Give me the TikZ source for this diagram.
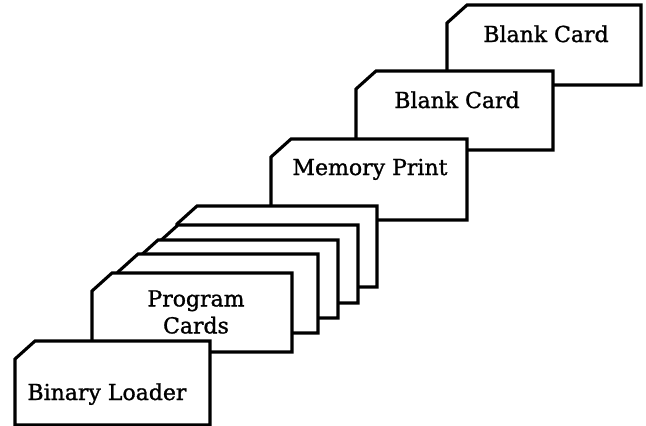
\documentclass[tikz,border=0pt]{standalone}
\usepackage{fontspec}
\setmainfont{DejaVu Serif}
\newfontfamily\cardfont{DejaVu Serif}[FakeBold=1.2]
\begin{document}
\begin{tikzpicture}[x=1pt,y=-1pt,
  cardedge/.style={draw=black,fill=white,line width=3.1pt,line join=miter},
  cardlabel/.style={font=\cardfont\fontsize{22}{27}\selectfont,inner sep=0pt,align=center,text=black}]
\useasboundingbox (0,0) rectangle (646,426);
% card macro: left, top, right, bottom
\newcommand\drawcard[4]{%
  \draw[cardedge] (#1+20,#2) -- (#3,#2) -- (#3,#4) -- (#1,#4) -- (#1,#2+18) -- cycle;}
% back to front
\drawcard{447}{5}{641}{85}
\drawcard{356}{71}{553}{150}
\drawcard{271}{139}{467}{220}
\drawcard{177}{206}{377}{287}
\drawcard{158}{225}{358}{303}
\drawcard{138}{240}{338}{318}
\drawcard{118}{254}{318}{333}
\drawcard{92}{273}{292}{352}
\drawcard{15}{341}{210}{425}
% labels
\node[cardlabel,anchor=base] (blanktop) at (546,42) {Blank Card};
\node[cardlabel,anchor=base] (blankmid) at (457,108) {Blank Card};
\node[cardlabel,anchor=base] (memprint) at (370,175) {Memory Print};
\node[cardlabel] (program) at (196,312) {Program\\Cards};
\node[cardlabel,anchor=base] (loader) at (107,400) {Binary Loader};
\end{tikzpicture}
\end{document}
